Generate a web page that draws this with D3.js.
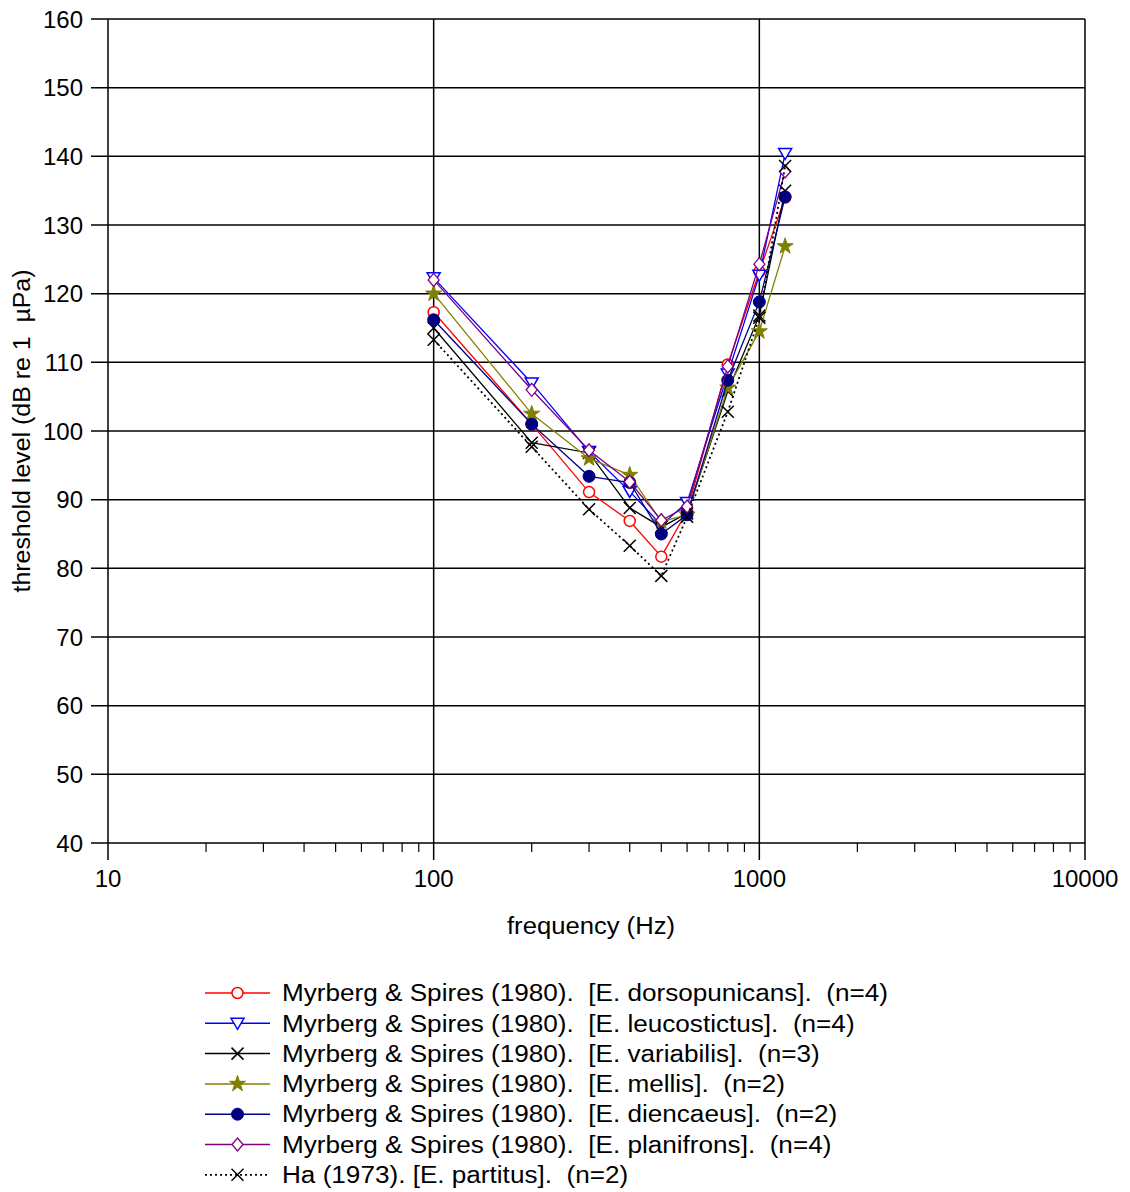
<!DOCTYPE html>
<html><head><meta charset="utf-8">
<script src="https://cdn.jsdelivr.net/npm/d3@7"></script>
<style>
body{margin:0;background:#fff;}
text{font-family:"Liberation Sans",Arial,sans-serif;fill:#000;}
</style></head>
<body>
<svg id="c" width="1130" height="1192"></svg>
<script>
const frequencies = [100, 200, 300, 400, 500, 600, 800, 1000, 1200];
const dorsopunicans = [117.3, 101, 91.1, 86.9, 81.7, 88.3, 109.7, 123.2, 134];
const leucostictus = [122.3, 107, 97, 91.2, 86.3, 89.6, 108.3, 122.7, 140.4];
const variabilis = [115, 98.3, 96.8, 88.8, 86, 88, 105.8, 116.8, 135];
const mellis = [120, 102.5, 96, 93.6, 86.8, 87.8, 106.3, 114.5, 126.9];
const diencaeus = [116.2, 101, 93.4, 92.5, 85, 87.8, 107.4, 118.8, 134.1];
const planifrons = [122, 106, 97.2, 92.6, 87, 89, 109.4, 124.3, 137.8];
const partitus = [113.3, 97.7, 88.6, 83.3, 78.9, 87.5, 102.8, 116.5, 138.6];
const xTickLabels = [10, 100, 1000, 10000];
const yTickLabels = [40, 50, 60, 70, 80, 90, 100, 110, 120, 130, 140, 150, 160];
const seriesNames = [
  "Myrberg & Spires (1980).  [E. dorsopunicans].  (n=4)",
  "Myrberg & Spires (1980).  [E. leucostictus].  (n=4)",
  "Myrberg & Spires (1980).  [E. variabilis].  (n=3)",
  "Myrberg & Spires (1980).  [E. mellis].  (n=2)",
  "Myrberg & Spires (1980).  [E. diencaeus].  (n=2)",
  "Myrberg & Spires (1980).  [E. planifrons].  (n=4)",
  "Ha (1973). [E. partitus].  (n=2)"
];

const seriesValues = [dorsopunicans, leucostictus, variabilis, mellis, diencaeus, planifrons, partitus];
const styles = [
  {color:"#ff0000", marker:"circleOpen", dash:null},
  {color:"#0000ff", marker:"triDown", dash:null},
  {color:"#000000", marker:"cross", dash:null},
  {color:"#808000", marker:"star", dash:null},
  {color:"#000080", marker:"circleFill", dash:null},
  {color:"#800080", marker:"diamond", dash:null},
  {color:"#000000", marker:"cross", dash:"2,3"}
];

const svg = d3.select("#c");
const L = 108, R = 1085, T = 19, B = 843;
const x = d3.scaleLog().domain([10, 10000]).range([L, R]);
const y = d3.scaleLinear().domain([40, 160]).range([B, T]);

svg.append("g").selectAll("line").data(yTickLabels).join("line")
  .attr("x1", L - 17).attr("x2", R).attr("y1", d => y(d)).attr("y2", d => y(d))
  .attr("stroke", "#000").attr("stroke-width", 1.5);
svg.append("g").selectAll("line").data(xTickLabels).join("line")
  .attr("x1", d => x(d)).attr("x2", d => x(d)).attr("y1", T).attr("y2", B + 17)
  .attr("stroke", "#000").attr("stroke-width", 1.5);
const minors = [];
[10, 100, 1000].forEach(dec => { for (let k = 2; k <= 9; k++) minors.push(dec * k); });
svg.append("g").selectAll("line").data(minors).join("line")
  .attr("x1", d => x(d)).attr("x2", d => x(d)).attr("y1", B).attr("y2", B + 9)
  .attr("stroke", "#000").attr("stroke-width", 1.2);

svg.append("g").selectAll("text").data(yTickLabels).join("text")
  .attr("x", 83).attr("y", d => y(d)).attr("dy", "0.36em").attr("text-anchor", "end")
  .attr("font-size", 24).text(d => d);
svg.append("g").selectAll("text").data(xTickLabels).join("text")
  .attr("x", d => x(d)).attr("y", 878).attr("dy", "0.36em").attr("text-anchor", "middle")
  .attr("font-size", 24).text(d => d);

svg.append("text").attr("x", 591).attr("y", 926).attr("dy", "0.35em").attr("text-anchor", "middle")
  .attr("font-size", 23).attr("textLength", 168).attr("lengthAdjust", "spacingAndGlyphs")
  .text("frequency (Hz)");
svg.append("text").attr("transform", "translate(22,431) rotate(-90)").attr("dy", "0.35em")
  .attr("text-anchor", "middle").attr("font-size", 23).style("white-space", "pre")
  .attr("textLength", 323).attr("lengthAdjust", "spacingAndGlyphs")
  .text("threshold level (dB re 1  \u00b5Pa)");

function drawMarker(g, type, color, cx, cy) {
  const s = 6;
  if (type === "circleOpen") {
    g.append("circle").attr("cx", cx).attr("cy", cy).attr("r", 5.5).attr("fill", "#fff").attr("stroke", color).attr("stroke-width", 1.5);
  } else if (type === "circleFill") {
    g.append("circle").attr("cx", cx).attr("cy", cy).attr("r", 6).attr("fill", color).attr("stroke", color);
  } else if (type === "triDown") {
    g.append("path").attr("d", `M${cx-6.5},${cy-5}L${cx+6.5},${cy-5}L${cx},${cy+6}Z`).attr("fill", "#fff").attr("stroke", color).attr("stroke-width", 1.5);
  } else if (type === "diamond") {
    g.append("path").attr("d", `M${cx},${cy-6.5}L${cx+5.5},${cy}L${cx},${cy+6.5}L${cx-5.5},${cy}Z`).attr("fill", "#fff").attr("stroke", color).attr("stroke-width", 1.3);
  } else if (type === "cross") {
    g.append("path").attr("d", `M${cx-s},${cy-s}L${cx+s},${cy+s}M${cx-s},${cy+s}L${cx+s},${cy-s}`).attr("stroke", color).attr("stroke-width", 1.5);
  } else if (type === "star") {
    const sym = d3.symbol().type(d3.symbolStar).size(80)();
    g.append("path").attr("d", sym).attr("transform", `translate(${cx},${cy})`).attr("fill", color).attr("stroke", color);
  }
}

const line = d3.line().x(d => x(d[0])).y(d => y(d[1]));
const plot = svg.append("g");
seriesValues.forEach((vals, i) => {
  const st = styles[i];
  const pts = frequencies.map((f, j) => [f, vals[j]]);
  const g = plot.append("g");
  g.append("path").attr("d", line(pts)).attr("fill", "none").attr("stroke", st.color)
    .attr("stroke-width", st.dash ? 1.8 : 1.3).attr("stroke-dasharray", st.dash);
  pts.forEach(p => drawMarker(g, st.marker, st.color, x(p[0]), y(p[1])));
});

const lg = svg.append("g");
const texts = [];
seriesNames.forEach((name, i) => {
  const st = styles[i];
  const yy = 993 + i * 30.3;
  lg.append("line").attr("x1", 205).attr("x2", 270).attr("y1", yy).attr("y2", yy)
    .attr("stroke", st.color).attr("stroke-width", st.dash ? 1.8 : 1.5).attr("stroke-dasharray", st.dash);
  drawMarker(lg, st.marker, st.color, 237.5, yy);
  texts.push(lg.append("text").attr("x", 282).attr("y", yy).attr("dy", "0.36em").attr("font-size", 23)
    .style("white-space", "pre").text(name));
});
const w0 = texts[0].node().getComputedTextLength();
const k = 606 / w0;
texts.forEach(t => {
  const w = t.node().getComputedTextLength();
  t.attr("textLength", w * k).attr("lengthAdjust", "spacingAndGlyphs");
});
</script>
</body></html>
